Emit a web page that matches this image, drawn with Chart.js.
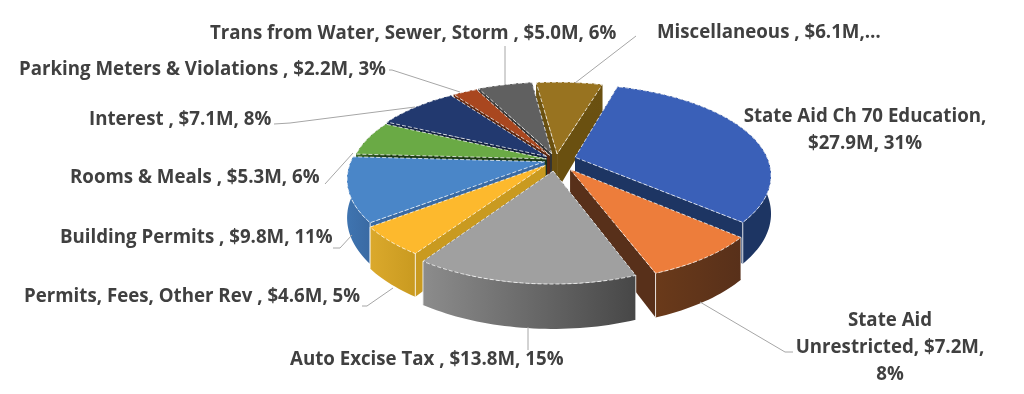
<!DOCTYPE html>
<html>
<head>
<meta charset="utf-8">
<title>Revenue pie</title>
<script src="https://cdn.jsdelivr.net/npm/chart.js@4/dist/chart.umd.min.js"></script>
<style>
  html, body { margin: 0; padding: 0; background: #fff; }
  #wrap { width: 1024px; height: 394px; }
  #pieChart { filter: blur(0.4px); }
</style>
</head>
<body>
<div id="wrap"><canvas id="pieChart" width="1024" height="394"></canvas></div>
<script>
// $M per category, clockwise from the big blue slice
const categories = ['State Aid Ch 70 Education', 'State Aid Unrestricted', 'Auto Excise Tax', 'Permits, Fees, Other Rev', 'Building Permits', 'Rooms & Meals', 'Interest', 'Parking Meters & Violations', 'Trans from Water, Sewer, Storm', 'Miscellaneous'];
const values = [27.9, 7.2, 13.8, 4.6, 9.8, 5.3, 7.1, 2.2, 5.0, 6.1];
const percents = [31, 8, 15, 5, 11, 6, 8, 3, 6, 7];

const topColors = ['#3a60b8', '#ed7d3b', '#a0a0a0', '#fdb92d', '#4a86c8', '#6aaa45', '#22396f', '#a9471f', '#606060', '#987320'];
const wallLight = ['#1d3563', '#6a3a1a', '#8c8c8c', '#dba92c', '#3f74b0', '#3f6a2a', '#17284f', '#6f2f14', '#404040', '#6f5512'];
const wallDark = ['#1d3563', '#58301a', '#474747', '#c99a20', '#3a6aa3', '#1c3a14', '#12203f', '#5a2610', '#333333', '#6a5010'];
const explode = [20, 24, 23, 15, 12, 10, 12, 12, 14, 13];

// 3d view
const hubX = 556, hubY = 160, squash = 0.474, persp = 0.19, wallHeight = 37;

const labelColor = '#404040';
const labelFont = '700 18.7px "Open Sans"';
const leaderColor = '#a6a6a6';

const labels = [
  { lines: ['Trans from Water, Sewer, Storm , $5.0M, 6%'], x: 210, y: 34, align: 'left' },
  { lines: ['Miscellaneous , $6.1M,…'], x: 657, y: 33, align: 'left' },
  { lines: ['State Aid Ch 70 Education,', '$27.9M, 31%'], x: 865, y: 117, align: 'center', gap: 27 },
  { lines: ['Parking Meters & Violations , $2.2M, 3%'], x: 19, y: 70, align: 'left' },
  { lines: ['Interest , $7.1M, 8%'], x: 89, y: 120, align: 'left' },
  { lines: ['Rooms & Meals , $5.3M, 6%'], x: 70, y: 178, align: 'left' },
  { lines: ['Building Permits , $9.8M, 11%'], x: 60, y: 238, align: 'left' },
  { lines: ['Permits, Fees, Other Rev , $4.6M, 5%'], x: 24, y: 297, align: 'left' },
  { lines: ['Auto Excise Tax , $13.8M, 15%'], x: 290, y: 360, align: 'left' },
  { lines: ['State Aid', 'Unrestricted, $7.2M,', '8%'], x: 890, y: 321, align: 'center', gap: 27 }
];

const leaders = [
  [[505, 46], [505, 84]],
  [[636, 36], [575, 83]],
  [[389, 70], [392, 70], [460, 92]],
  [[274, 124], [290, 123], [415, 107]],
  [[325, 184], [353, 153]],
  [[333, 248], [340, 248], [352, 235]],
  [[362, 306], [367, 306], [393, 288]],
  [[528, 327], [528, 350]],
  [[700, 302], [785, 352], [793, 352]]
];

function project(u, v, h, R) {
  const k = 1 + persp * v / R;
  return [hubX + u * k, hubY + v * squash * k + h * k];
}

function tracePoints(ctx, pts) {
  pts.forEach((p, i) => i ? ctx.lineTo(p[0], p[1]) : ctx.moveTo(p[0], p[1]));
}

function drawSlice(ctx, arc, i) {
  const mid = (arc.startAngle + arc.endAngle) / 2;
  const ox = Math.cos(mid) * explode[i];
  const oy = Math.sin(mid) * explode[i];
  const R = arc.outerRadius;
  const steps = Math.max(6, Math.round((arc.endAngle - arc.startAngle) * 40));

  const rim = [], rimLow = [];
  for (let s = 0; s <= steps; s++) {
    const a = arc.startAngle + (arc.endAngle - arc.startAngle) * s / steps;
    const u = ox + Math.cos(a) * R, v = oy + Math.sin(a) * R;
    rim.push(project(u, v, 0, R));
    rimLow.push(project(u, v, wallHeight, R));
  }
  const apex = project(ox, oy, 0, R);
  const apexLow = project(ox, oy, wallHeight, R);

  // radial walls
  ctx.fillStyle = wallDark[i];
  [0, steps].forEach(s => {
    ctx.beginPath();
    tracePoints(ctx, [apex, rim[s], rimLow[s], apexLow]);
    ctx.closePath();
    ctx.fill();
  });

  // outer wall
  const xs = rim.map(p => p[0]);
  const grad = ctx.createLinearGradient(Math.min(...xs), 0, Math.max(...xs), 0);
  grad.addColorStop(0, wallLight[i]);
  grad.addColorStop(1, wallDark[i]);
  ctx.fillStyle = grad;
  ctx.beginPath();
  tracePoints(ctx, rim.concat(rimLow.slice().reverse()));
  ctx.closePath();
  ctx.fill();

  // white corner lines on the front walls
  ctx.strokeStyle = 'rgba(255,255,255,0.8)';
  ctx.lineWidth = 1;
  [0, steps].forEach(s => {
    const a = arc.startAngle + (arc.endAngle - arc.startAngle) * s / steps;
    if (Math.sin(a) > 0.25) {
      ctx.beginPath();
      tracePoints(ctx, [rim[s], rimLow[s]]);
      ctx.stroke();
    }
  });

  // top
  ctx.fillStyle = topColors[i];
  ctx.beginPath();
  tracePoints(ctx, [apex].concat(rim));
  ctx.closePath();
  ctx.fill();

  ctx.strokeStyle = 'rgba(255,255,255,0.75)';
  ctx.setLineDash([4, 2]);
  ctx.stroke();
  ctx.setLineDash([]);
}

const pie3d = {
  id: 'pie3d',
  beforeDatasetDraw(chart) {
    const ctx = chart.ctx;
    const arcs = chart.getDatasetMeta(0).data;
    const order = arcs.map((a, i) => i).sort((a, b) => {
      const mid = n => (arcs[n].startAngle + arcs[n].endAngle) / 2;
      return Math.sin(mid(a)) - Math.sin(mid(b));
    });
    ctx.save();
    order.forEach(i => drawSlice(ctx, arcs[i], i));
    ctx.restore();
    return false;
  },
  afterDraw(chart) {
    const ctx = chart.ctx;
    ctx.save();
    ctx.strokeStyle = leaderColor;
    ctx.lineWidth = 1;
    leaders.forEach(pts => {
      ctx.beginPath();
      tracePoints(ctx, pts);
      ctx.stroke();
    });
    ctx.fillStyle = labelColor;
    ctx.font = labelFont;
    ctx.textBaseline = 'middle';
    labels.forEach(l => {
      ctx.textAlign = l.align;
      l.lines.forEach((t, n) => ctx.fillText(t, l.x, l.y + n * (l.gap || 0)));
    });
    ctx.restore();
  }
};

new Chart(document.getElementById('pieChart'), {
  type: 'pie',
  data: {
    labels: categories,
    datasets: [{ data: values, backgroundColor: topColors, borderWidth: 0 }]
  },
  options: {
    responsive: false,
    animation: false,
    rotation: 17,
    radius: 193,
    layout: { padding: 0 },
    plugins: {
      legend: { display: false },
      tooltip: { enabled: false }
    }
  },
  plugins: [pie3d]
});
</script>
</body>
</html>
